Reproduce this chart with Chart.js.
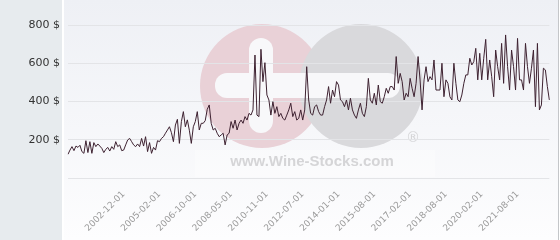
<!DOCTYPE html>
<html>
<head>
<meta charset="utf-8">
<script src="https://cdn.jsdelivr.net/npm/chart.js@4.4.1/dist/chart.umd.min.js"></script>
<style>
  html, body { margin: 0; padding: 0; background: #fff; }
  #wrap { width: 560px; height: 240px; }
</style>
</head>
<body>
<div id="wrap"><canvas id="priceChart" width="560" height="240"></canvas></div>
<script>
// x-axis labels shown every 18 points
const tickLabels = [
  "2002-12-01", "2005-02-01", "2006-10-01", "2008-05-01", "2010-11-01", "2012-07-01",
  "2014-01-01", "2015-08-01", "2017-02-01", "2018-08-01", "2020-02-01", "2021-08-01"
];
const firstTick = 28;
const tickEvery = 18;

// price in $
const prices = [
  124, 146, 164, 143, 167, 160, 171, 138, 129, 195,
  133, 190, 129, 185, 164, 178, 167, 155, 133, 150,
  160,
  141, 164, 150, 190, 164, 173, 143, 146, 173, 199,
  207, 190, 173, 164, 178, 164, 207, 167, 216, 138,
  185, 129, 160, 146, 195, 190, 207, 216, 234, 251,
  268, 237, 190, 277, 307, 181, 295, 347, 268, 304,
  250,
  181, 268, 295, 347, 251, 286, 286, 300, 359, 382,
  286, 251, 260, 234, 216, 225, 234, 173, 225, 234,
  295,
  260, 303, 251, 286, 303, 286, 321, 303, 338, 329,
  356, 643, 329, 321, 673, 504, 603, 434, 408, 329,
  399, 338, 373, 321, 338, 312, 303, 329, 356, 391,
  321, 347, 303, 312, 356, 303, 356, 582, 408, 338,
  329, 373, 382, 347, 329, 329, 373, 408, 478, 391,
  460, 425, 504, 486, 408, 399, 373, 408, 356, 417,
  356, 329, 312, 356, 391, 338, 321, 373, 521, 408,
  391, 443, 382, 486, 399, 391, 425, 469, 443, 478,
  478,
  460, 635, 495, 547, 504, 408, 443, 425, 521, 469,
  425, 495, 635, 513, 356, 513, 582, 504, 530, 513,
  617, 460, 460, 460, 600, 425, 513, 495, 425, 408,
  600, 495, 408, 399, 434, 495, 539, 539, 626, 591,
  608, 678, 513, 652, 513, 626, 725, 513, 617, 530,
  425, 669, 582, 513, 704, 495, 748, 582, 460, 669,
  582, 460, 730, 513, 513, 460, 704, 582, 495, 574,
  669, 373, 704, 356, 382, 574, 565, 478, 408
];

const yMax = 800;
const yStep = 200;

const labels = prices.map((_, i) => {
  const k = (i - firstTick) / tickEvery;
  return Number.isInteger(k) && k >= 0 && k < tickLabels.length ? tickLabels[k] : "";
});

Chart.defaults.font.family = "'DejaVu Sans', sans-serif";

// panel, plot background and the faint logo behind the line
const backdrop = {
  id: "backdrop",
  beforeDraw(chart) {
    const { ctx, height } = chart;
    ctx.save();
    ctx.fillStyle = "#e7ebee";
    ctx.fillRect(0, 0, 62, height);
    ctx.fillStyle = "#ffffff";
    ctx.fillRect(62, 0, 2, height);
    const g = ctx.createLinearGradient(0, 0, 0, height);
    g.addColorStop(0, "#eef0f5");
    g.addColorStop(1, "#fdfdfe");
    ctx.fillStyle = g;
    ctx.fillRect(64, 0, 494, height);
    ctx.fillStyle = "#c4c6c9";
    ctx.fillRect(558, 0, 1, height);

    // logo
    ctx.fillStyle = "#e9d1d7";
    ctx.beginPath();
    ctx.arc(262, 86, 62, 0, Math.PI * 2);
    ctx.fill();
    ctx.fillStyle = "#d9d9dc";
    ctx.beginPath();
    ctx.arc(361, 86, 62, 0, Math.PI * 2);
    ctx.fill();
    ctx.fillStyle = "#f8f8fa";
    ctx.beginPath();
    ctx.roundRect(249, 38, 24, 95, 12);
    ctx.fill();
    ctx.beginPath();
    ctx.roundRect(215, 73, 185, 25, 12);
    ctx.fill();

    ctx.fillStyle = "rgba(255,255,255,0.3)";
    ctx.fillRect(195, 150, 240, 27);
    ctx.fillStyle = "#d5d5d7";
    ctx.font = "bold 15px 'Liberation Sans', Arial, sans-serif";
    ctx.textAlign = "center";
    ctx.textBaseline = "middle";
    ctx.fillText("www.Wine-Stocks.com", 312, 162);
    ctx.font = "14px 'DejaVu Sans', sans-serif";
    ctx.fillText("\u00ae", 413, 138);
    ctx.restore();
  }
};

new Chart(document.getElementById("priceChart"), {
  type: "line",
  data: {
    labels: labels,
    datasets: [{
      data: prices,
      borderColor: "#3e2231",
      borderWidth: 1,
      pointRadius: 0,
      tension: 0,
      fill: false
    }]
  },
  options: {
    responsive: false,
    animation: false,
    layout: { padding: { top: 25, right: 5, left: 0, bottom: 0 } },
    plugins: {
      legend: { display: false },
      tooltip: { enabled: false }
    },
    scales: {
      x: {
        grid: { display: false },
        border: { display: false },
        afterFit: (scale) => { scale.height = 62; },
        ticks: {
          autoSkip: false,
          minRotation: 45,
          maxRotation: 45,
          padding: 3,
          color: "#9a9a9a",
          font: { size: 9 }
        }
      },
      y: {
        min: 0,
        max: yMax,
        grid: { color: "#e3e4e7", drawTicks: false },
        border: { display: false },
        afterFit: (scale) => { scale.width = 68; },
        ticks: {
          stepSize: yStep,
          padding: 8,
          color: "#333333",
          font: { size: 11 },
          callback: (v) => (v === 0 ? "" : v + " $")
        }
      }
    }
  },
  plugins: [backdrop]
});
</script>
</body>
</html>
